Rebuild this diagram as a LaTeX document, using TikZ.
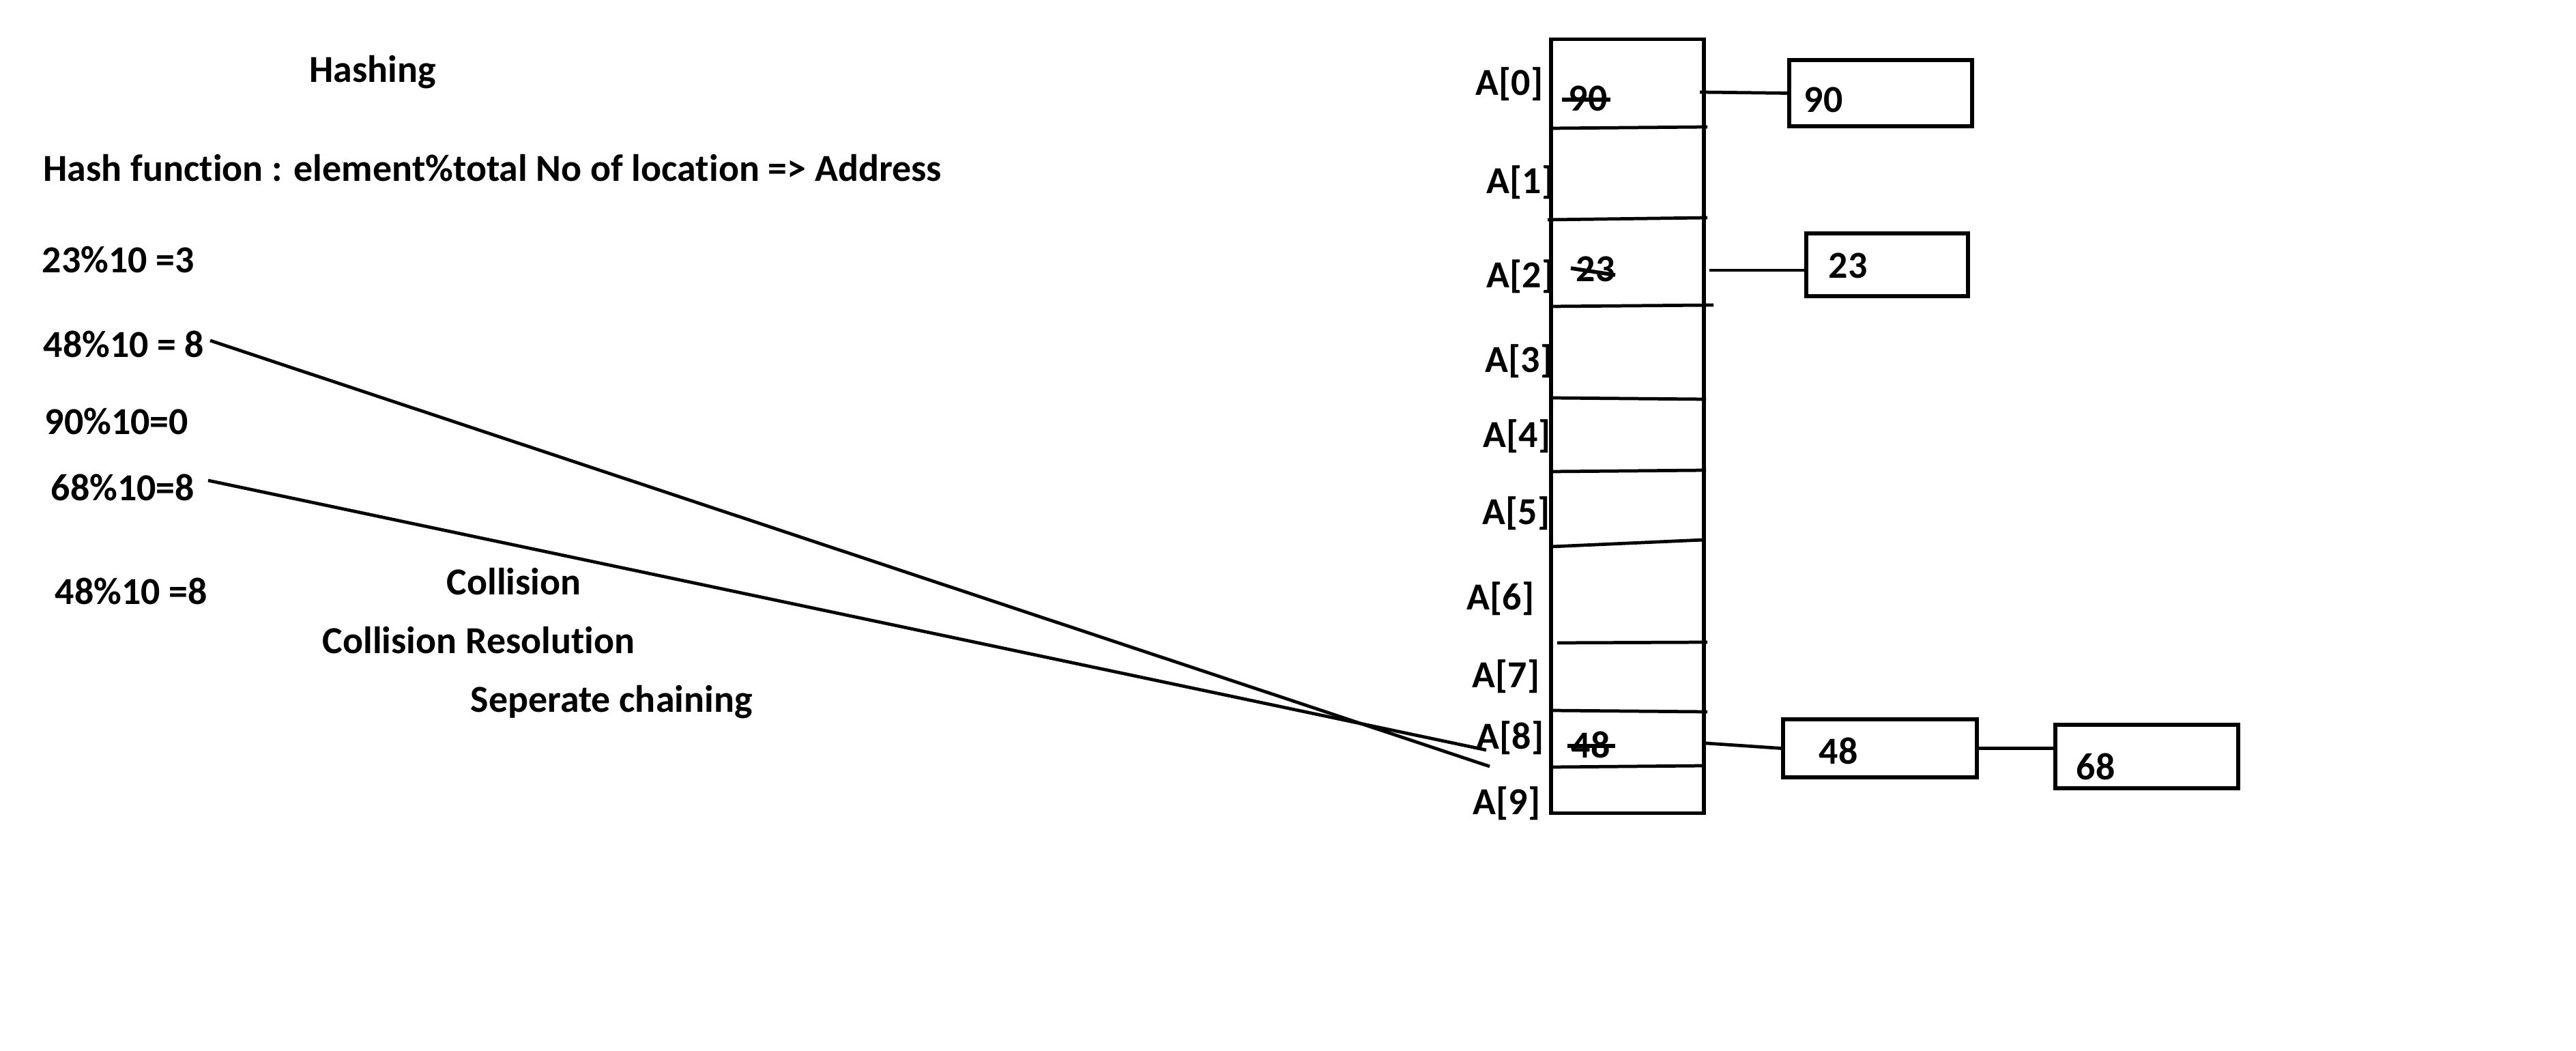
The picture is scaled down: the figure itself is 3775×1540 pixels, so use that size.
\documentclass[tikz,border=0pt]{standalone}
\usepackage{fontspec}
\setmainfont{Carlito}[Ligatures=NoCommon]
\begin{document}
\begin{tikzpicture}[x=0.01cm,y=-0.01cm,
  txt/.style={anchor=base west, inner sep=0pt, font=\fontsize{15.9}{18}\selectfont\bfseries},
  box/.style={draw, line width=1.5pt, inner sep=0pt},
  wire/.style={line width=1.35pt},
  strike/.style={line width=1.6pt},
]
\useasboundingbox (0,0) rectangle (3775,1540);

% ---- notes on the left ----
\node[txt] (title) at (453,121) {Hashing};
\node[txt] (hf)    at (63,266)  {Hash function : element\%total No of location => Address};
\node[txt] (q23)   at (61,400)  {23\%10 =3};
\node[txt] (q48)   at (63,524)  {48\%10 = 8};
\node[txt] (q90)   at (65,637)  {90\%10=0};
\node[txt] (q68)   at (74,734)  {68\%10=8};
\node[txt] (q48b)  at (80,886)  {48\%10 =8};
\node[txt] (col)   at (654,872) {Collision};
\node[txt] (colr)  at (472,958) {Collision Resolution};
\node[txt] (sep)   at (689,1043) {Seperate chaining};

% ---- the hash table ----
\node[draw, line width=1.5pt, inner sep=0pt, minimum width=2.24cm, minimum height=11.33cm]
  (arr) at (2385,624.5) {};
\draw[wire] (2273,188) -- (2502,186);
\draw[wire] (2268,322) -- (2502,319);
\draw[wire] (2273,449) -- (2511,447);
\draw[wire] (2273,583) -- (2500,585);
\draw[wire] (2273,691) -- (2500,689);
\draw[wire] (2273,801) -- (2497,791);
\draw[wire] (2282,942) -- (2502,941);
\draw[wire] (2273,1041) -- (2502,1043);
\draw[wire] (2273,1124) -- (2497,1122);

% index labels
\node[txt] (a0) at (2162,140)  {A[0]};
\node[txt] (a1) at (2178,284)  {A[1]};
\node[txt] (a2) at (2178,422)  {A[2]};
\node[txt] (a3) at (2176,546)  {A[3]};
\node[txt] (a4) at (2173,656)  {A[4]};
\node[txt] (a5) at (2172,768)  {A[5]};
\node[txt] (a6) at (2149,893)  {A[6]};
\node[txt] (a7) at (2157,1007) {A[7]};
\node[txt] (a8) at (2163,1097) {A[8]};
\node[txt] (a9) at (2158,1193) {A[9]};

% values written in the cells and struck out
\node[txt] (v90) at (2298,163)  {90};
\node[txt] (v23) at (2309,413)  {23};
\node[txt] (v48) at (2302,1110) {48};
\draw[strike] (2289,146) -- (2360,146);
\draw[strike] (2302,393) -- (2367,403);
\draw[strike] (2297,1093) -- (2367,1093);

% ---- chain nodes ----
\node[box, minimum width=2.68cm, minimum height=0.97cm] (b90) at (2756,136.5) {};
\node[box, minimum width=2.37cm, minimum height=0.92cm] (b23) at (2765.5,388) {};
\node[box, minimum width=2.84cm, minimum height=0.85cm] (b48) at (2755,1096.5) {};
\node[box, minimum width=2.68cm, minimum height=0.93cm] (b68) at (3146,1108.5) {};
\node[txt] (t90) at (2643,165)  {90};
\node[txt] (t23) at (2679,408)  {23};
\node[txt] (t48) at (2665,1119) {48};
\node[txt] (t68) at (3042,1142) {68};

% links from the cells to the chains
\coordinate (o0) at (2491,135);
\coordinate (o2) at (2505,396);
\coordinate (o8) at (2500,1089);
\draw[wire] (o0) -- (b90.west);
\draw[wire] (o2) -- (b23.west |- o2);
\draw[wire] (o8) -- (b48.west);
\draw[wire] (b48.east) -- (b68.west |- b48.east);

% both keys map to slot 8
\coordinate (s48) at (308,499);
\coordinate (e48) at (2183,1123);
\coordinate (s68) at (305,704);
\coordinate (e68) at (2178,1099);
\draw[wire] (s48) -- (e48);
\draw[wire] (s68) -- (e68);
\end{tikzpicture}
\end{document}
